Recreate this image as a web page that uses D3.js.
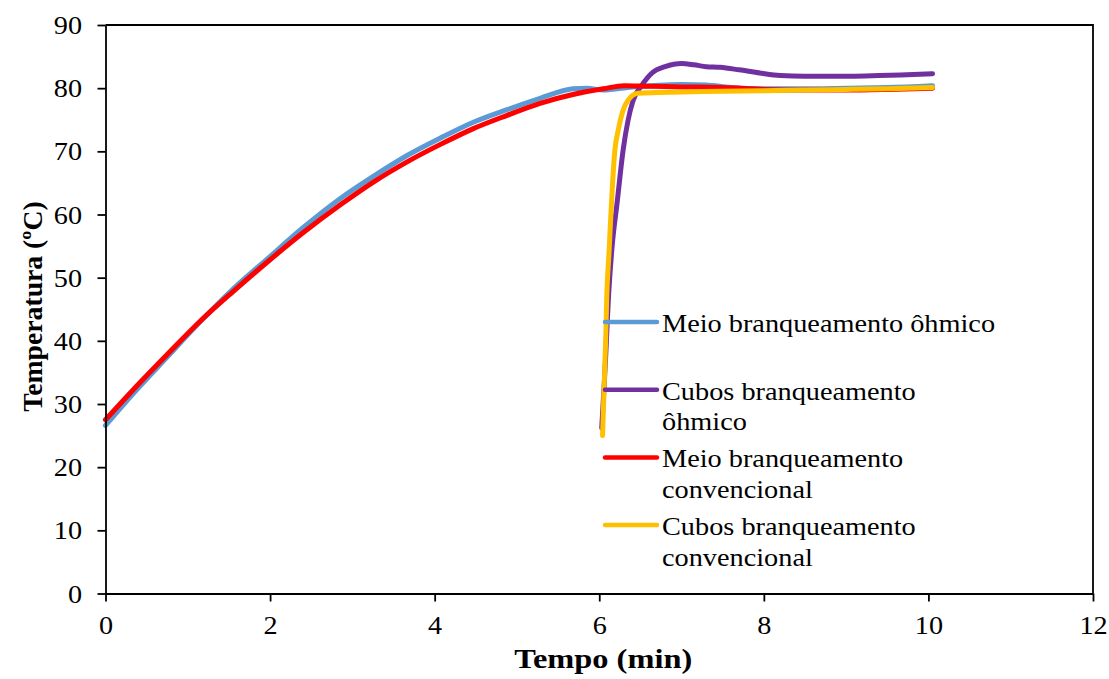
<!DOCTYPE html>
<html>
<head>
<meta charset="utf-8">
<script src="https://cdn.jsdelivr.net/npm/d3@7"></script>
<style>
  body { margin: 0; background: #fff; }
  svg { display: block; }
  text { font-family: "Liberation Serif", "Times New Roman", serif; fill: #000; }
</style>
</head>
<body>
<svg id="chart" width="1109" height="679"></svg>
<script>
// Axis ticks
const xTicks = [0, 2, 4, 6, 8, 10, 12];
const yTicks = [0, 10, 20, 30, 40, 50, 60, 70, 80, 90];

// Series names (legend lines) and colours
const seriesLabels = [
  ["Meio branqueamento ôhmico"],
  ["Cubos branqueamento", "ôhmico"],
  ["Meio branqueamento", "convencional"],
  ["Cubos branqueamento", "convencional"]
];
const seriesColors = ["#5B9BD5", "#7030A0", "#FF0000", "#FFC000"];

// Meio branqueamento ôhmico: time (min), temperature (°C)
const meioOhmicoTime = [0, 0.34, 0.74, 1.15, 1.55, 1.96, 2.4, 2.85, 3.25, 3.66, 4.07, 4.47, 4.88, 5.28, 5.68, 5.85, 6.05, 6.4, 7.0, 7.3, 7.6, 8.0, 8.5, 9.0, 9.5, 10.05];
const meioOhmicoTemp = [26.6, 31.7, 37.3, 43.0, 48.2, 52.9, 57.9, 62.5, 66.0, 69.3, 72.1, 74.6, 76.6, 78.4, 79.9, 80.0, 79.7, 80.2, 80.6, 80.5, 80.1, 79.9, 79.9, 80.0, 80.1, 80.4];

// Cubos branqueamento ôhmico
const cubosOhmicoTime = [6.03, 6.06, 6.08, 6.11, 6.15, 6.22, 6.29, 6.35, 6.41, 6.52, 6.65, 6.8, 7.0, 7.15, 7.3, 7.47, 7.7, 7.95, 8.2, 8.5, 9.05, 9.4, 9.66, 10.05];
const cubosOhmicoTemp = [26.2, 33.0, 38.0, 46.4, 54.0, 62.2, 70.2, 74.9, 78.0, 80.5, 82.5, 83.4, 83.9, 83.7, 83.4, 83.3, 82.9, 82.4, 82.0, 81.9, 81.9, 82.0, 82.1, 82.3];

// Meio branqueamento convencional
const meioConvTime = [0, 0.34, 0.74, 1.15, 1.55, 1.96, 2.4, 2.85, 3.25, 3.66, 4.07, 4.47, 4.88, 5.28, 5.68, 6.05, 6.3, 6.6, 7.0, 7.5, 8.0, 8.5, 9.0, 9.5, 10.05];
const meioConvTemp = [27.5, 32.3, 37.7, 43.1, 47.8, 52.4, 57.1, 61.5, 65.1, 68.3, 71.1, 73.6, 75.7, 77.6, 79.0, 79.9, 80.4, 80.3, 80.2, 80.1, 79.8, 79.7, 79.7, 79.8, 80.0];

// Cubos branqueamento convencional
const cubosConvTime = [6.04, 6.06, 6.08, 6.09, 6.12, 6.15, 6.19, 6.23, 6.29, 6.35, 6.47, 6.7, 7.0, 7.5, 8.0, 8.5, 9.0, 9.5, 10.05];
const cubosConvTemp = [25.0, 33.0, 41.0, 46.4, 54.3, 62.2, 70.2, 73.3, 76.5, 78.1, 79.2, 79.3, 79.4, 79.5, 79.6, 79.7, 79.8, 79.9, 80.1];

const seriesData = [
  [meioOhmicoTime, meioOhmicoTemp],
  [cubosOhmicoTime, cubosOhmicoTemp],
  [meioConvTime, meioConvTemp],
  [cubosConvTime, cubosConvTemp]
].map(([t, v]) => t.map((d, i) => ({ t: d, v: v[i] })));

const svg = d3.select("#chart");
svg.append("rect").attr("width", 1109).attr("height", 679).attr("fill", "#fff");

const plot = { left: 105.5, right: 1093, top: 25, bottom: 593.5 };
const x = d3.scaleLinear().domain([0, 12]).range([plot.left, plot.right]);
const y = d3.scaleLinear().domain([0, 90]).range([plot.bottom, plot.top]);

const stretch = 1.13;   // glyphs are slightly wide in this typeface setting
const axisStroke = 1.8;

// Series lines
const line = d3.line().x(d => x(d.t)).y(d => y(d.v)).curve(d3.curveMonotoneX);
seriesData.forEach((pts, i) => {
  svg.append("path")
    .datum(pts)
    .attr("d", line)
    .attr("fill", "none")
    .attr("stroke", seriesColors[i])
    .attr("stroke-width", 5)
    .attr("stroke-linejoin", "round")
    .attr("stroke-linecap", "round");
});

// Plot frame (top and right)
svg.append("path")
  .attr("d", `M${plot.left},${plot.top}H${plot.right}V${plot.bottom}`)
  .attr("fill", "none").attr("stroke", "#000").attr("stroke-width", axisStroke);

// X axis
const gx = svg.append("g")
  .attr("transform", `translate(0,${plot.bottom})`)
  .call(d3.axisBottom(x).tickValues(xTicks).tickSize(8).tickSizeOuter(0).tickFormat(d3.format("d")));
gx.select(".domain").attr("stroke", "#000").attr("stroke-width", axisStroke);
gx.selectAll(".tick line").attr("stroke", "#000").attr("stroke-width", axisStroke);
gx.selectAll(".tick text")
  .attr("y", 40.5).attr("dy", null)
  .attr("transform", `scale(${stretch},1)`)
  .style("font-size", "25px").style("font-family", "Liberation Serif");

// Y axis
const gy = svg.append("g")
  .attr("transform", `translate(${plot.left},0)`)
  .call(d3.axisLeft(y).tickValues(yTicks).tickSize(8).tickSizeOuter(0).tickFormat(d3.format("d")));
gy.select(".domain").attr("stroke", "#000").attr("stroke-width", axisStroke);
gy.selectAll(".tick line").attr("stroke", "#000").attr("stroke-width", axisStroke);
gy.selectAll(".tick text")
  .attr("x", -23.5 / stretch).attr("dy", "0.34em")
  .attr("transform", `scale(${stretch},1)`)
  .style("font-size", "25px").style("font-family", "Liberation Serif");

// Axis titles
svg.append("text")
  .attr("transform", `translate(${(plot.left + plot.right) / 2 + 4},668) scale(1.17,1)`)
  .attr("text-anchor", "middle")
  .style("font-size", "27.7px").style("font-weight", "bold")
  .text("Tempo (min)");

svg.append("text")
  .attr("transform", `translate(42,306.5) rotate(-90)`)
  .attr("text-anchor", "middle")
  .style("font-size", "27.7px").style("font-weight", "bold")
  .text("Temperatura (ºC)");

// Legend
const legendTop = 322, legendStep = 67.7;
seriesLabels.forEach((lines, i) => {
  const ly = legendTop + i * legendStep;
  const g = svg.append("g");
  g.append("line")
    .attr("x1", 605).attr("x2", 657).attr("y1", ly).attr("y2", ly)
    .attr("stroke", seriesColors[i]).attr("stroke-width", 4.5).attr("stroke-linecap", "round");
  const t = g.append("text")
    .attr("transform", `translate(662,${ly + 9.8}) scale(1.11,1)`)
    .style("font-size", "25.5px");
  lines.forEach((s, k) => {
    t.append("tspan").attr("x", 0).attr("dy", k === 0 ? 0 : 31).text(s);
  });
});
</script>
</body>
</html>
